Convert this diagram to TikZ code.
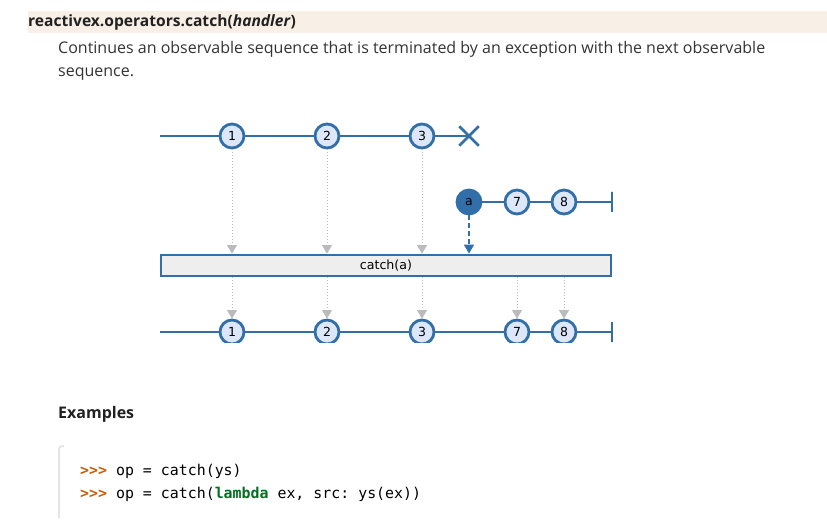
\documentclass[tikz,border=0pt]{standalone}
\usepackage{fontspec}
\setmainfont{Open Sans}
\setmonofont{DejaVu Sans Mono}
\newfontfamily\marblefont{DejaVu Sans}
\usetikzlibrary{arrows.meta,shapes.misc}

\definecolor{seqblue}{RGB}{50,111,168}
\definecolor{marblefill}{RGB}{221,231,250}
\definecolor{opfill}{RGB}{238,238,238}
\definecolor{feedgray}{RGB}{187,187,187}
\definecolor{headband}{RGB}{248,240,230}
\definecolor{promptcol}{RGB}{198,93,9}
\definecolor{kwgreen}{RGB}{0,112,32}

\begin{document}
\begin{tikzpicture}[x=1pt,y=-1pt,
	seqline/.style={draw=seqblue,line width=2.8pt},
	marble/.style={circle,draw=seqblue,line width=2.8pt,fill=marblefill,minimum size=24pt,inner sep=0pt,font=\marblefont\fontsize{12.5}{12.5}\selectfont},
	errmark/.style={cross out,draw=seqblue,line width=2.5pt,minimum size=17pt,inner sep=0pt},
	endbar/.style={draw=seqblue,line width=2.8pt,minimum width=0pt,minimum height=20pt,inner sep=0pt},
	opbox/.style={rectangle,draw=seqblue,line width=2.8pt,fill=opfill,minimum width=450pt,minimum height=21pt,inner sep=0pt,font=\marblefont\fontsize{12.6}{12.6}\selectfont},
	feed/.style={draw=feedgray,line width=1pt,dotted,-{Triangle[width=10pt,length=8.5pt]}},
	handler/.style={draw=seqblue,line width=1.4pt,dash pattern=on 5pt off 3pt,-{Triangle[width=10pt,length=9pt]}},
	codeline/.style={anchor=west,inner sep=0pt,font=\ttfamily\fontsize{14.9}{14.9}\selectfont}]
	\useasboundingbox (0,0) rectangle (827,521);

	% heading and description
	\fill[headband] (28,11) rectangle (827,33);
	\node[anchor=west,inner sep=0pt,text=black!87,font=\bfseries\fontsize{15.6}{18}\selectfont] (title)
		at (28,22) {reactivex.operators.catch(\textit{handler})};
	\node[anchor=north west,inner sep=0pt,align=left,text=black!80,font=\fontsize{16}{23.5}\selectfont] (descr)
		at (58,41) {Continues an observable sequence that is terminated by an exception with the next observable\\sequence.};

	\begin{scope}
		\clip (150,100) rectangle (640,342);

		% source sequence
		\coordinate (tstart) at (160,136);
		\node[marble] (m1) at (232,136) {1};
		\node[marble] (m2) at (327,136) {2};
		\node[marble] (m3) at (422,136) {3};
		\node[errmark] (terr) at (469,136) {};
		\draw[seqline] (tstart) -- (m1) -- (m2) -- (m3) -- (terr.center);

		% handler sequence
		\node[marble,fill=seqblue] (ma) at (469,202) {a};
		\node[marble] (m7) at (517,202) {7};
		\node[marble] (m8) at (564,202) {8};
		\node[endbar] (aend) at (612,202) {};
		\draw[seqline] (ma) -- (m7) -- (m8) -- (aend);

		% operator
		\node[opbox] (op) at (386,265.5) {catch(a)};

		% result sequence
		\coordinate (bstart) at (160,332);
		\node[marble] (n1) at (232,332) {1};
		\node[marble] (n2) at (327,332) {2};
		\node[marble] (n3) at (422,332) {3};
		\node[marble] (n7) at (517,332) {7};
		\node[marble] (n8) at (564,332) {8};
		\node[endbar] (bend) at (612,332) {};
		\draw[seqline] (bstart) -- (n1) -- (n2) -- (n3) -- (n7) -- (n8) -- (bend);

		\draw[feed] (m1) -- (m1 |- op.north);
		\draw[feed] (m2) -- (m2 |- op.north);
		\draw[feed] (m3) -- (m3 |- op.north);
		\draw[handler] (ma) -- (ma |- op.north);

		\draw[feed] (op.south -| n1) -- (n1);
		\draw[feed] (op.south -| n2) -- (n2);
		\draw[feed] (op.south -| n3) -- (n3);
		\draw[feed] (op.south -| n7) -- (n7);
		\draw[feed] (op.south -| n8) -- (n8);
	\end{scope}

	% examples
	\node[anchor=west,inner sep=0pt,text=black!87,font=\bfseries\fontsize{16}{18}\selectfont] (examples)
		at (58,414) {Examples};
	\draw[black!10,line width=2pt,rounded corners=3pt] (64,446) -- (59,446) -- (59,518);
	\node[codeline] (ex1) at (80,471) {\textcolor{promptcol}{\bfseries>{}>{}>} op = catch(ys)};
	\node[codeline] (ex2) at (80,494) {\textcolor{promptcol}{\bfseries>{}>{}>} op = catch(\textcolor{kwgreen}{\bfseries lambda} ex, src: ys(ex))};
\end{tikzpicture}
\end{document}
